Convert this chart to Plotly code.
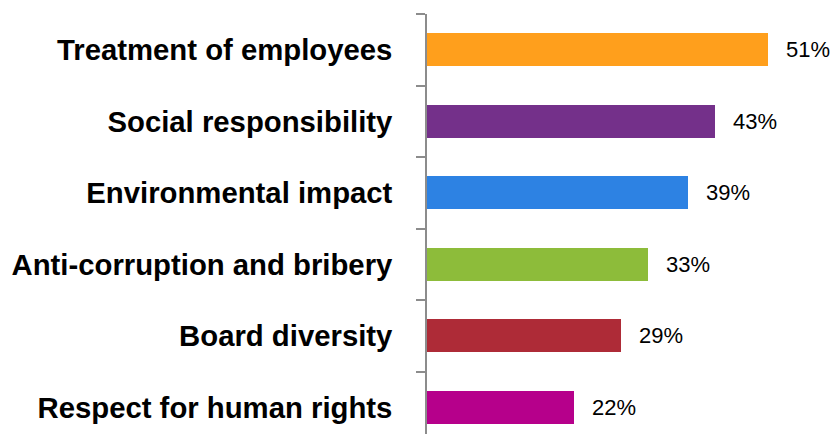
import plotly.graph_objects as go

# Survey topics (top to bottom) and share of respondents, in percent
categories = [
    "Treatment of employees",
    "Social responsibility",
    "Environmental impact",
    "Anti-corruption and bribery",
    "Board diversity",
    "Respect for human rights",
]
values = [51, 43, 39, 33, 29, 22]
colors = ["#FF9F1C", "#74308A", "#2D82E3", "#8DBC3A", "#AE2B37", "#B6008B"]

# Plotly draws horizontal categories bottom-up, so reverse the order
cats = categories[::-1]
vals = values[::-1]
cols = colors[::-1]

fig = go.Figure(
    go.Bar(
        y=cats,
        x=vals,
        orientation="h",
        marker=dict(color=cols, line=dict(width=0)),
        width=0.46,
        hoverinfo="skip",
    )
)

# Percentage labels to the right of each bar
for c, v in zip(cats, vals):
    fig.add_annotation(
        x=v, y=c, text=f"{v}%", showarrow=False,
        xanchor="left", yanchor="middle", xshift=16,
        font=dict(family="Liberation Sans, Arial, sans-serif", size=22, color="#000000"),
    )

fig.update_layout(
    width=837,
    height=434,
    margin=dict(l=427, r=10, t=14, b=0),
    paper_bgcolor="white",
    plot_bgcolor="white",
    showlegend=False,
    bargap=0,
    xaxis=dict(
        range=[0, 59.8],
        visible=False,
        fixedrange=True,
    ),
    yaxis=dict(
        type="category",
        categoryorder="array",
        categoryarray=cats,
        range=[-0.374, 5.5],
        showline=True,
        linecolor="#8C8C8C",
        linewidth=1.5,
        ticks="outside",
        ticklen=9,
        tickwidth=1.5,
        tickcolor="#8C8C8C",
        tickson="boundaries",
        showgrid=False,
        zeroline=False,
        ticklabelstandoff=27,
        tickfont=dict(family="Liberation Sans, Arial, sans-serif", size=29.3, color="#000000",
                      weight="bold"),
        fixedrange=True,
    ),
)

fig.write_html("out.html")
